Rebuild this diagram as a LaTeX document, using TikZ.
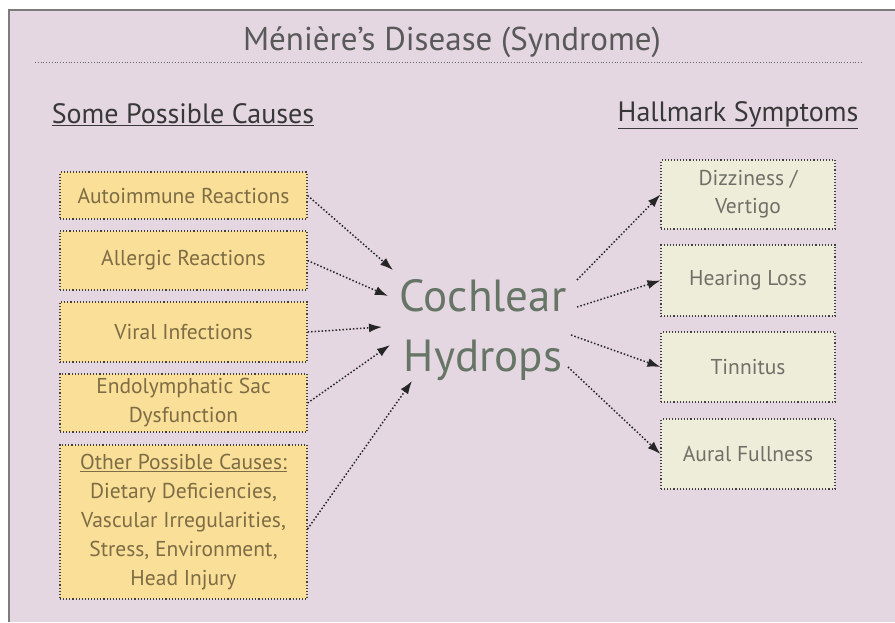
\documentclass[tikz,border=0pt]{standalone}
\usepackage{fontspec}
\setmainfont{PT Sans}
\usetikzlibrary{arrows.meta}
\definecolor{bgpink}{HTML}{E4D7E2}
\definecolor{causefill}{HTML}{F9DF97}
\definecolor{symfill}{HTML}{EDEDD9}
\definecolor{framegray}{HTML}{7C7C7C}
\definecolor{hydgreen}{HTML}{677567}
\definecolor{causetext}{HTML}{7D6C45}
\definecolor{symtext}{HTML}{707068}

\tikzset{
  cause/.style={draw=black!75,dotted,line width=1.1pt,fill=causefill,minimum width=247pt,align=center,
    font=\fontsize{21.5}{29}\selectfont,text=causetext,inner sep=0pt},
  symptom/.style={draw=black!75,dotted,line width=1.1pt,fill=symfill,minimum width=174pt,minimum height=70pt,
    align=center,font=\fontsize{21.5}{28}\selectfont,text=symtext,inner sep=0pt},
  heading/.style={font=\fontsize{28}{30}\selectfont,text=black!78},
  link/.style={black!85,dotted,line width=1.5pt,-{Latex[length=13pt,width=9pt]}}
}

\begin{document}
\begin{tikzpicture}[x=1pt,y=-1pt]
  \useasboundingbox (0,0) rectangle (895,622);
  \fill[white] (0,0) rectangle (895,622);
  \fill[bgpink] (9,10) rectangle (895,622);
  \draw[framegray,line width=1.5pt] (9,622) -- (9,10) -- (895,10);

  \node[font=\fontsize{33}{36}\selectfont,text=black!65] (title) at (452,42) {Ménière’s Disease (Syndrome)};
  \draw[black!60,dotted,line width=0.8pt] (35,62) -- (862,62);

  \node[heading] (causes) at (183,115) {\underline{Some Possible Causes}};
  \node[heading] (symptoms) at (738,115) {\underline{Hallmark Symptoms}};

  \node[cause,minimum height=47pt] (auto) at (183.5,195.5) {Autoimmune Reactions};
  \node[cause,minimum height=59pt] (allergic) at (183.5,260.5) {Allergic Reactions};
  \node[cause,minimum height=60pt] (viral) at (183.5,332) {Viral Infections};
  \node[cause,minimum height=58pt] (endo) at (183.5,403) {Endolymphatic Sac\\Dysfunction};
  \node[cause,minimum height=154pt] (other) at (183.5,522) {\underline{Other Possible Causes:}\\Dietary Deficiencies,\\Vascular Irregularities,\\Stress, Environment,\\Head Injury};

  \node[font=\fontsize{45}{60}\selectfont,text=hydgreen,align=center] (hydrops) at (483,330) {Cochlear\\Hydrops};

  \node[symptom,minimum height=69pt] (dizzy) at (748,194.5) {Dizziness /\\Vertigo};
  \node[symptom,minimum height=71pt] (hearing) at (748,280.5) {Hearing Loss};
  \node[symptom] (tinnitus) at (748,367) {Tinnitus};
  \node[symptom] (aural) at (748,454) {Aural Fullness};

  \coordinate (in1) at (393,270);
  \coordinate (in2) at (388,296);
  \coordinate (in3) at (382,327);
  \coordinate (in4) at (390,345);
  \coordinate (in5) at (412,381);
  \coordinate (out1) at (577,280);
  \coordinate (out2) at (577,307);
  \coordinate (out3) at (571,335);
  \coordinate (out4) at (568,367);

  \draw[link] (auto.east) -- (in1);
  \draw[link] (allergic.east) -- (in2);
  \draw[link] (viral.east) -- (in3);
  \draw[link] (endo.east) -- (in4);
  \draw[link] ([yshift=-7pt]other.east) -- (in5);
  \draw[link] (out1) -- (dizzy.west);
  \draw[link] (out2) -- (hearing.west);
  \draw[link] (out3) -- (tinnitus.west);
  \draw[link] (out4) -- (aural.west);
\end{tikzpicture}
\end{document}
